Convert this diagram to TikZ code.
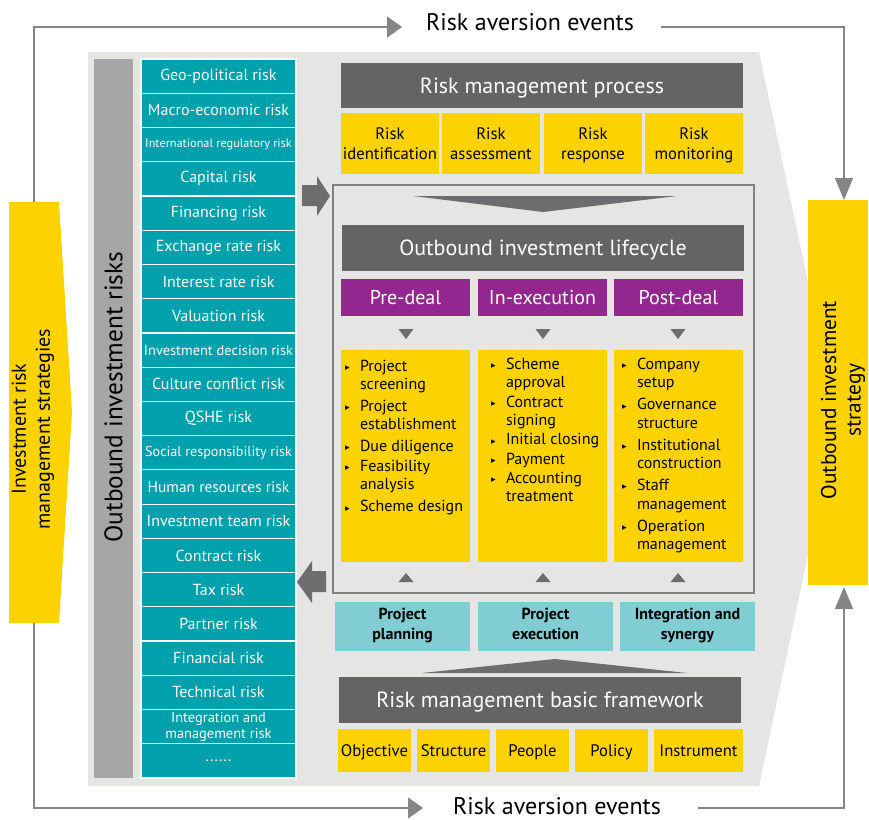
\documentclass[tikz,border=0pt]{standalone}
\usepackage{fontspec}
\setmainfont{PT Sans}
\newfontfamily\dejavu{DejaVu Sans}
\usetikzlibrary{arrows.meta}
\definecolor{tealA}{HTML}{00A0AC}
\definecolor{ltealA}{HTML}{80CED4}
\definecolor{eyyel}{HTML}{FCD200}
\definecolor{purpA}{HTML}{93278F}
\definecolor{dgrayA}{HTML}{646464}
\definecolor{bggray}{HTML}{E5E5E3}
\definecolor{mgrayA}{HTML}{A6A6A6}
\definecolor{agray}{HTML}{6D6D70}
\definecolor{lineg}{HTML}{858585}
\definecolor{frameg}{HTML}{808080}
\newcommand\bx[7]{\node[#6, minimum width={(#4-#2)*0.75pt}, minimum height={(#5-#3)*0.75pt}] (#1) at ({(#2+#4)/2},{(#3+#5)/2}) {#7};}
\newcommand\fs[2]{\fontsize{#1}{#2}\selectfont}
\newcommand\rcell[4]{\node[tealcell, font=#3] (#1) at (218.5,{59+34.238*(#2+0.5)}) {#4};}
\newcommand\bul{\makebox[11.25pt][l]{\raisebox{0.5pt}{\dejavu\fontsize{7}{7}\selectfont ▸}}}
\newcommand\nob{\makebox[11.25pt]{}}
\tikzset{
  box/.style={inner sep=0pt, outer sep=0pt, align=center},
  tealcell/.style={box, fill=tealA, draw=white, line width=0.9pt, text=white,
    minimum width=116.25pt, minimum height=25.68pt},
  hdr/.style={box, text depth=0pt, fill=dgrayA, text=white, font=\fs{16.5}{19}},
  yel/.style={box, text depth=0pt, fill=eyyel, text=black, font=\fs{12.5}{15}},
  pur/.style={box, fill=purpA, text=white, font=\fs{15}{18}},
  ltb/.style={box, text depth=4.5pt, fill=ltealA, text=black, font=\bfseries\fs{12}{15}},
  lifeframe/.style={box, draw=frameg, line width=1.1pt, fill=bggray},
  listnode/.style={inner sep=0pt, outer sep=0pt, align=left, anchor=north west, font=\fs{12}{13.9}},
  loopline/.style={draw=lineg, line width=1.1pt},
  tipH/.style={-{Triangle[length=11.25pt,width=15.75pt]}},
  tipV/.style={-{Triangle[length=16.5pt,width=13.5pt]}},
  chev/.style={fill=agray},
}
\begin{document}
\begin{tikzpicture}[x=0.75pt,y=-0.75pt]
\useasboundingbox (0,0) rectangle (869,819);
% background
\fill[bggray] (88,52) -- (759,52) -- (837,418) -- (759,786) -- (88,786) -- cycle;
% left strategy chevron
\fill[eyyel] (9,202) -- (59,202) -- (72,412) -- (59,623) -- (9,623) -- cycle;
\node[inner sep=0pt, align=center, rotate=90, font=\fs{15}{18}] (lstrat) at (33,429) {Investment risk\\management strategies};
\coordinate (lsT) at (34,202);
\coordinate (lsB) at (34,623);
% right strategy box
\node[box, fill=eyyel, rotate=90, minimum width=288.75pt, minimum height=45pt] (rstrat) at (838,392.5) {};
\node[inner sep=0pt, align=center, rotate=90, font=\fs{16}{18.5}] (rstratlabel) at (843,400) {Outbound investment\\strategy};
\coordinate (rsT) at (844,200);
\coordinate (rsB) at (844,587);
% risk aversion events
\node[font=\fs{18}{20}, inner sep=0pt] (rae1) at (530,22) {Risk aversion events};
\node[font=\fs{18}{20}, inner sep=0pt] (rae2) at (557,806) {Risk aversion events};
\coordinate (t1) at (402,27);
\coordinate (t2) at (661,27);
\coordinate (b1) at (423,808);
\coordinate (b2) at (698,808);
\draw[loopline, tipH] (lsT) |- (t1);
\draw[loopline, tipV] (t2) -| (rsT);
\draw[loopline, tipH] (lsB) |- (b1);
\draw[loopline, tipV] (b2) -| (rsB);
% risk bar
\bx{rbar}{94}{59}{133}{778}{box, fill=mgrayA}{}
\node[inner sep=0pt, rotate=90, font=\fs{19}{22}] (rbarlabel) at (113.5,397) {Outbound investment risks};
% risk cells
\rcell{c0}{0}{\fs{12}{13}}{Geo-political risk}
\rcell{c1}{1}{\fs{12}{13}}{Macro-economic risk}
\rcell{c2}{2}{\fs{9.2}{10}}{International regulatory risk}
\rcell{c3}{3}{\fs{12}{13}}{Capital risk}
\rcell{c4}{4}{\fs{12}{13}}{Financing risk}
\rcell{c5}{5}{\fs{12}{13}}{Exchange rate risk}
\rcell{c6}{6}{\fs{12}{13}}{Interest rate risk}
\rcell{c7}{7}{\fs{12}{13}}{Valuation risk}
\rcell{c8}{8}{\fs{10.8}{12}}{Investment decision risk}
\rcell{c9}{9}{\fs{12}{13}}{Culture conflict risk}
\rcell{c10}{10}{\fs{12}{13}}{QSHE risk}
\rcell{c11}{11}{\fs{10.6}{12}}{Social responsibility risk}
\rcell{c12}{12}{\fs{11.6}{13}}{Human resources risk}
\rcell{c13}{13}{\fs{12}{13}}{Investment team risk}
\rcell{c14}{14}{\fs{12}{13}}{Contract risk}
\rcell{c15}{15}{\fs{12}{13}}{Tax risk}
\rcell{c16}{16}{\fs{12}{13}}{Partner risk}
\rcell{c17}{17}{\fs{12}{13}}{Financial risk}
\rcell{c18}{18}{\fs{12}{13}}{Technical risk}
\rcell{c19}{19}{\fs{10.8}{12}}{Integration and\\management risk}
\rcell{c20}{20}{\fs{12}{13}}{......}
% risk management process
\bx{rmp}{341}{63}{743}{108}{hdr}{Risk management process}
\bx{p1}{341}{113}{439}{174}{yel}{Risk\\identification}
\bx{p2}{442}{113}{540}{174}{yel}{Risk\\assessment}
\bx{p3}{544}{113}{642}{174}{yel}{Risk\\response}
\bx{p4}{645}{113}{743}{174}{yel}{Risk\\monitoring}
% lifecycle frame
\bx{life}{333}{185}{754}{593}{lifeframe}{}
\fill[chev] (413,196) -- (677,196) -- (543,212) -- cycle;
\bx{oil}{342}{225}{744}{271}{hdr}{Outbound investment lifecycle}
\bx{pre}{341}{279}{470}{316}{pur}{Pre-deal}
\bx{inx}{478}{279}{607}{316}{pur}{In-execution}
\bx{post}{614}{279}{743}{316}{pur}{Post-deal}
\foreach \cx in {406,543,678}{
  \fill[chev] (\cx-7.5,329) -- (\cx+7.5,329) -- (\cx,339) -- cycle;
  \fill[chev] (\cx-7.5,582) -- (\cx+7.5,582) -- (\cx,573) -- cycle;
}
\bx{y1}{341}{350}{470}{562}{yel}{}
\bx{y2}{478}{350}{607}{562}{yel}{}
\bx{y3}{614}{350}{743}{562}{yel}{}
\node[listnode] (l1) at (345,360) {\bul Project\\\nob screening\\[2pt]\bul Project\\\nob establishment\\[2.5pt]\bul Due diligence\\[1pt]\bul Feasibility\\\nob analysis\\[2.5pt]\bul Scheme design};
\node[listnode] (l2) at (491,358) {\bul Scheme\\\nob approval\\[0.5pt]\bul Contract\\\nob signing\\[0.5pt]\bul Initial closing\\[0.5pt]\bul Payment\\[0.5pt]\bul Accounting\\\nob treatment};
\node[listnode] (l3) at (622,358) {\bul Company\\\nob setup\\[2.5pt]\bul Governance\\\nob structure\\[2.5pt]\bul Institutional\\\nob construction\\[2.5pt]\bul Staff\\\nob management\\[2.5pt]\bul Operation\\\nob management};
% block arrows
\fill[chev] (302,185) -- (317,185) -- (317,176) -- (330,196) -- (317,216) -- (317,206) -- (302,206) -- cycle;
\fill[chev] (326,571) -- (312,571) -- (312,561) -- (297,582) -- (312,603) -- (312,592) -- (326,592) -- cycle;
% project phases
\bx{pp}{335}{602}{470}{651}{ltb}{Project\\planning}
\bx{pe}{478}{602}{613}{651}{ltb}{Project\\execution}
\bx{is}{620}{602}{755}{651}{ltb}{Integration and\\synergy}
\fill[chev] (422,673) -- (687,673) -- (555,659) -- cycle;
% framework
\bx{rmbf}{339}{677}{741}{723}{hdr}{Risk management basic framework}
\bx{f1}{338}{729}{411}{772}{yel}{Objective}
\bx{f2}{417}{729}{490}{772}{yel}{Structure}
\bx{f3}{496}{729}{569}{772}{yel}{People}
\bx{f4}{575}{729}{648}{772}{yel}{Policy}
\bx{f5}{654}{729}{743}{772}{yel}{Instrument}
\end{tikzpicture}
\end{document}
